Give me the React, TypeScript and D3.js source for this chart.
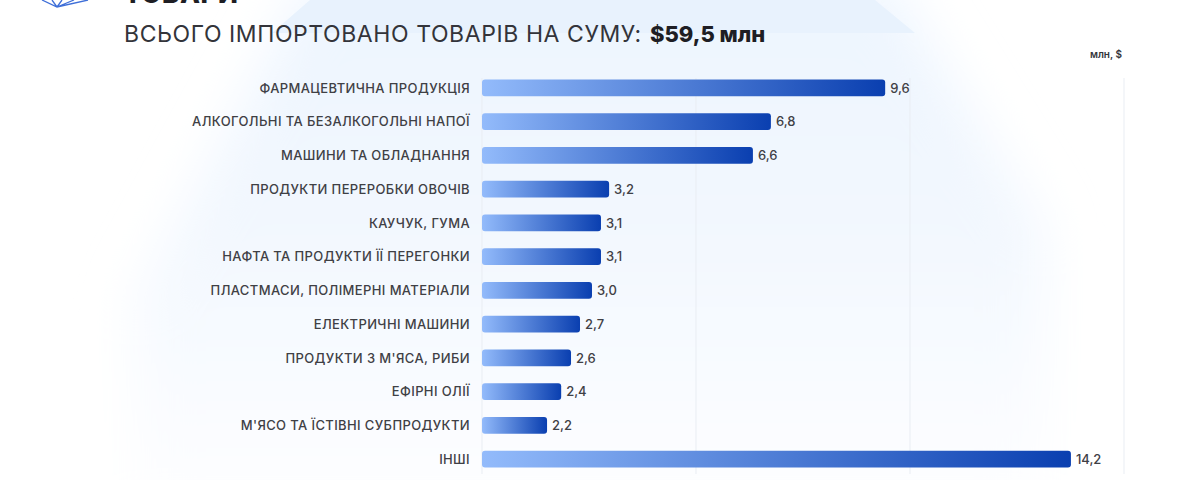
import * as d3 from "d3";

const categories = [
  "ФАРМАЦЕВТИЧНА ПРОДУКЦІЯ",
  "АЛКОГОЛЬНІ ТА БЕЗАЛКОГОЛЬНІ НАПОЇ",
  "МАШИНИ ТА ОБЛАДНАННЯ",
  "ПРОДУКТИ ПЕРЕРОБКИ ОВОЧІВ",
  "КАУЧУК, ГУМА",
  "НАФТА ТА ПРОДУКТИ ЇЇ ПЕРЕГОНКИ",
  "ПЛАСТМАСИ, ПОЛІМЕРНІ МАТЕРІАЛИ",
  "ЕЛЕКТРИЧНІ МАШИНИ",
  "ПРОДУКТИ З М'ЯСА, РИБИ",
  "ЕФІРНІ ОЛІЇ",
  "М'ЯСО ТА ЇСТІВНІ СУБПРОДУКТИ",
  "ІНШІ",
];
// printed values
const valueLabels = ["9,6", "6,8", "6,6", "3,2", "3,1", "3,1", "3,0", "2,7", "2,6", "2,4", "2,2", "14,2"];
// bar lengths as drawn in the picture, read against the gridlines (they are not proportional to the printed values)
const barLengths = [9.42, 6.75, 6.33, 2.97, 2.78, 2.78, 2.57, 2.29, 2.08, 1.85, 1.52, 13.76];
const gridTicks = [0, 5, 10, 15];

const FONT = "Inter, 'Noto Sans', sans-serif";

export default function App() {
  const x = d3.scaleLinear().domain([0, 15]).range([482, 1124]);
  const y = d3.scaleBand<string>()
    .domain(categories)
    .range([71, 476])
    .paddingInner(0.51)
    .paddingOuter(0.255);

  return (
    <svg
      width={1200}
      height={480}
      viewBox="0 0 1200 480"
      style={{ position: "absolute", left: 0, top: 0, display: "block", background: "#fff" }}
    >
      <defs>
        <linearGradient id="bar-fill" x1="0" y1="0" x2="1" y2="0">
          <stop offset="0%" stopColor="#93bbfb" />
          <stop offset="100%" stopColor="#0a3fb0" />
        </linearGradient>
        <linearGradient id="bg-fill" x1="0" y1="0" x2="0" y2="1">
          <stop offset="0%" stopColor="#edf5fe" />
          <stop offset="50%" stopColor="#f3f8fe" />
          <stop offset="88%" stopColor="#fcfdff" />
          <stop offset="100%" stopColor="#ffffff" />
        </linearGradient>
        <filter id="bg-blur" x="-20%" y="-20%" width="140%" height="140%">
          <feGaussianBlur stdDeviation="26" />
        </filter>
      </defs>

      {/* background shape: blurred body, crisp top */}
      <path
        d="M310,-20 L890,-20 L1045,230 L1045,530 L135,530 L135,300 Z"
        fill="url(#bg-fill)"
        filter="url(#bg-blur)"
      />
      <path d="M310,0 L875,0 L915,33 L272,33 Z" fill="#e8f2fd" />

      {/* logo fragment */}
      <g fill="none" stroke="#3f6fd8" strokeWidth={1.3}>
        <path d="M42,0 L57,7 L88,0 M57,7 L52,0 M57,7 L62,0 M57,7 L74,0" />
      </g>

      {/* titles */}
      <text x={124} y={3} fontFamily={FONT} fontSize={26} fontWeight={800} letterSpacing={0.6} fill="#1e1e24">ТОВАРИ</text>
      <text x={124} y={42} fontFamily={FONT} fontSize={23} fontWeight={400} letterSpacing={0.58} fill="#33343a">
        ВСЬОГО ІМПОРТОВАНО ТОВАРІВ НА СУМУ:
      </text>
      <text x={650} y={42} fontFamily={FONT} fontSize={22} fontWeight={800} fill="#1e1e24">$59,5 млн</text>
      <text x={1122} y={58} textAnchor="end" fontFamily={FONT} fontSize={10} fontWeight={600} fill="#33343a">млн, $</text>

      {/* gridlines */}
      {gridTicks.map((t) => (
        <line key={t} x1={x(t)} x2={x(t)} y1={78} y2={474} stroke="#e9edf3" strokeWidth={1} />
      ))}

      {/* rows */}
      {categories.map((c, i) => {
        const by = y(c) as number;
        const cy = by + y.bandwidth() / 2;
        const end = x(barLengths[i]);
        return (
          <g key={c}>
            <text x={470} y={cy} dy="0.36em" textAnchor="end" fontFamily={FONT} fontSize={13} fontWeight={500} letterSpacing={0.38} fill="#3f4045">
              {c}
            </text>
            <rect x={x(0)} y={by} width={end - x(0)} height={y.bandwidth()} rx={3} fill="url(#bar-fill)" />
            <text x={end + 5} y={cy} dy="0.36em" fontFamily={FONT} fontSize={13} fontWeight={500} fill="#3f4045">
              {valueLabels[i]}
            </text>
          </g>
        );
      })}
    </svg>
  );
}
